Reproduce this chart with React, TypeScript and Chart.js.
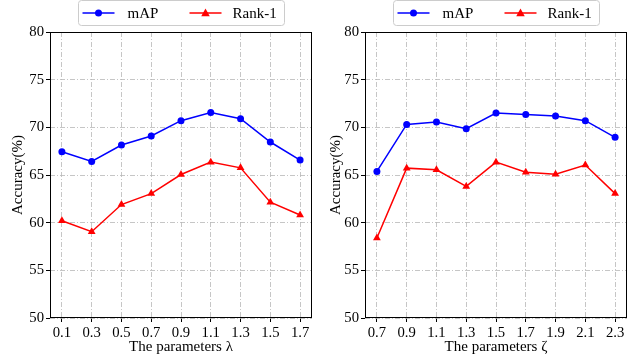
import React, { useEffect, useRef } from "react";
import { Chart, registerables } from "chart.js";

Chart.register(...registerables);

const lambdaParams = [0.1, 0.3, 0.5, 0.7, 0.9, 1.1, 1.3, 1.5, 1.7];
const lambdaMAP = [67.44, 66.42, 68.15, 69.09, 70.7, 71.55, 70.9, 68.46, 66.57];
const lambdaRank1 = [60.2, 59.05, 61.9, 63.05, 65.05, 66.35, 65.75, 62.15, 60.8];

const zetaParams = [0.7, 0.9, 1.1, 1.3, 1.5, 1.7, 1.9, 2.1, 2.3];
const zetaMAP = [65.37, 70.3, 70.57, 69.86, 71.5, 71.34, 71.2, 70.7, 68.95];
const zetaRank1 = [58.4, 65.72, 65.55, 63.8, 66.35, 65.3, 65.08, 66.05, 63.05];

const yTicks = [50, 55, 60, 65, 70, 75, 80];
const seriesNames = ["mAP", "Rank-1"];
const yTitle = "Accuracy(%)";

const FONT = "'Liberation Serif', 'DejaVu Serif', 'Times New Roman', serif";
const BLUE = "#0000ff";
const RED = "#ff0000";

function drawTriangle(ctx: CanvasRenderingContext2D, x: number, y: number, r: number) {
  ctx.beginPath();
  ctx.moveTo(x, y - r);
  ctx.lineTo(x + r * 0.95, y + r * 0.7);
  ctx.lineTo(x - r * 0.95, y + r * 0.7);
  ctx.closePath();
  ctx.fill();
}

const frameLegendPlugin = {
  id: "frameLegend",
  afterDraw(chart: any) {
    const { ctx, chartArea: a } = chart;
    ctx.save();
    // frame
    ctx.strokeStyle = "#000";
    ctx.lineWidth = 1;
    const l = Math.round(a.left) + 0.5;
    const t = Math.round(a.top) + 0.5;
    const r = Math.round(a.right) - 0.5;
    const b = Math.round(a.bottom) - 0.5;
    ctx.strokeRect(l, t, r - l, b - t);

    // legend
    const w = 206;
    const h = 25;
    const cx = (a.left + a.right) / 2;
    const L = Math.round(cx - w / 2) + 0.5;
    const T = 0.5;
    ctx.fillStyle = "rgba(255,255,255,0.9)";
    ctx.strokeStyle = "#cccccc";
    ctx.lineWidth = 1;
    ctx.beginPath();
    (ctx as any).roundRect(L, T, w, h, 3);
    ctx.fill();
    ctx.stroke();

    const ly = T + 12.5;
    ctx.lineWidth = 1.5;
    // mAP
    ctx.strokeStyle = BLUE;
    ctx.beginPath();
    ctx.moveTo(L + 4, ly);
    ctx.lineTo(L + 36, ly);
    ctx.stroke();
    ctx.fillStyle = BLUE;
    ctx.beginPath();
    ctx.arc(L + 20, ly, 3.5, 0, Math.PI * 2);
    ctx.fill();
    // Rank-1
    ctx.strokeStyle = RED;
    ctx.beginPath();
    ctx.moveTo(L + 111, ly);
    ctx.lineTo(L + 143, ly);
    ctx.stroke();
    ctx.fillStyle = RED;
    drawTriangle(ctx, L + 127, ly, 4.5);

    ctx.fillStyle = "#000";
    ctx.font = `15px ${FONT}`;
    ctx.textBaseline = "middle";
    ctx.textAlign = "left";
    ctx.fillText(seriesNames[0], L + 49, ly + 1);
    ctx.fillText(seriesNames[1], L + 154, ly + 1);
    ctx.restore();
  },
};

type PanelProps = {
  params: number[];
  map: number[];
  rank1: number[];
  xTitle: string;
  width: number;
  height: number;
  yAxisWidth: number;
  padRight: number;
  left: number;
};

function Panel(p: PanelProps) {
  const ref = useRef<HTMLCanvasElement | null>(null);
  useEffect(() => {
    if (!ref.current) return;
    const toPts = (vals: number[]) => p.params.map((x, i) => ({ x, y: vals[i] }));
    const margin = (p.params[p.params.length - 1] - p.params[0]) * 0.05;
    const chart = new Chart(ref.current, {
      type: "line",
      data: {
        datasets: [
          {
            label: seriesNames[0],
            data: toPts(p.map),
            borderColor: BLUE,
            backgroundColor: BLUE,
            borderWidth: 1.5,
            pointStyle: "circle",
            pointRadius: 3.5,
            pointBorderWidth: 0,
            tension: 0,
          },
          {
            label: seriesNames[1],
            data: toPts(p.rank1),
            borderColor: RED,
            backgroundColor: RED,
            borderWidth: 1.5,
            pointStyle: "triangle",
            pointRadius: 4.5,
            pointBorderWidth: 0,
            tension: 0,
          },
        ],
      },
      options: {
        responsive: false,
        animation: false,
        devicePixelRatio: 1,
        layout: { padding: { top: 32, right: p.padRight, bottom: 0, left: 0 } },
        plugins: { legend: { display: false }, tooltip: { enabled: false }, title: { display: false } },
        scales: {
          x: {
            type: "linear",
            min: p.params[0] - margin,
            max: p.params[p.params.length - 1] + margin,
            afterBuildTicks: (scale: any) => {
              scale.ticks = p.params.map((v) => ({ value: v }));
            },
            afterFit: (scale: any) => {
              scale.height = 44;
            },
            ticks: {
              autoSkip: false,
              maxRotation: 0,
              padding: 2,
              color: "#000",
              font: { family: FONT, size: 14.7 },
              callback: (v: any) => Number(v).toFixed(1),
            },
            grid: {
              color: "#b8b8b8",
              lineWidth: 0.8,
              drawTicks: true,
              tickLength: 4,
              tickColor: "#000",
              tickWidth: 1,
              tickBorderDash: [],
            },
            border: { display: false, dash: [5, 2, 1, 2] },
            title: {
              display: true,
              text: p.xTitle,
              color: "#000",
              font: { family: FONT, size: 15 },
              padding: { top: 0, bottom: 6 },
            },
          },
          y: {
            type: "linear",
            min: 50,
            max: 80,
            afterBuildTicks: (scale: any) => {
              scale.ticks = yTicks.map((v) => ({ value: v }));
            },
            afterFit: (scale: any) => {
              scale.width = p.yAxisWidth;
            },
            ticks: {
              padding: 2,
              color: "#000",
              font: { family: FONT, size: 14.7 },
            },
            grid: {
              color: "#b8b8b8",
              lineWidth: 0.8,
              drawTicks: true,
              tickLength: 4,
              tickColor: "#000",
              tickWidth: 1,
              tickBorderDash: [],
            },
            border: { display: false, dash: [5, 2, 1, 2] },
            title: {
              display: true,
              text: yTitle,
              color: "#000",
              font: { family: FONT, size: 15 },
              padding: { top: 9, bottom: 0 },
            },
          },
        },
      } as any,
      plugins: [frameLegendPlugin],
    });
    return () => chart.destroy();
  }, []);
  return (
    <canvas
      ref={ref}
      width={p.width}
      height={p.height}
      style={{ position: "absolute", left: p.left, top: 0, width: p.width, height: p.height }}
    />
  );
}

export default function App() {
  return (
    <div style={{ position: "fixed", left: 0, top: 0, width: 637, height: 362, background: "#fff" }}>
      <Panel
        params={lambdaParams}
        map={lambdaMAP}
        rank1={lambdaRank1}
        xTitle="The parameters λ"
        width={318}
        height={362}
        yAxisWidth={50}
        padRight={6}
        left={0}
      />
      <Panel
        params={zetaParams}
        map={zetaMAP}
        rank1={zetaRank1}
        xTitle="The parameters ζ"
        width={319}
        height={362}
        yAxisWidth={47}
        padRight={10}
        left={318}
      />
    </div>
  );
}
